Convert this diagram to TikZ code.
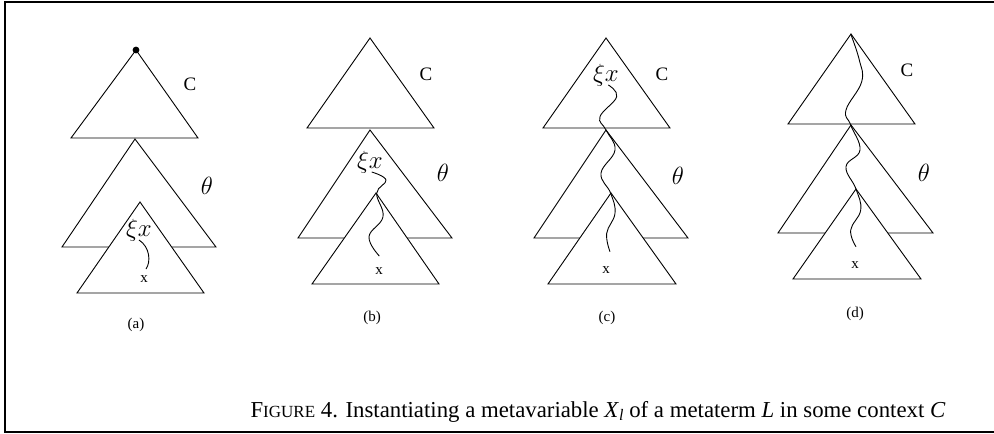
\documentclass[tikz,border=0pt]{standalone}
\usepackage{fontspec}
\setmainfont{Liberation Serif}
\begin{document}
\begin{tikzpicture}[x=1pt,y=-1pt,
  tri/.style={draw, line width=0.9pt, fill=white, line join=miter},
  wig/.style={line width=0.9pt},
  clab/.style={font=\fontsize{19}{22}\selectfont, inner sep=0pt},
  tlab/.style={font=\fontsize{24}{28}\selectfont, inner sep=0pt},
  xilab/.style={font=\fontsize{23}{27}\selectfont, inner sep=0pt},
  xlab/.style={font=\fontsize{15}{18}\selectfont, inner sep=0pt},
  sublab/.style={font=\fontsize{15}{18}\selectfont, inner sep=0pt},
  caplab/.style={font=\fontsize{22.8}{26}\selectfont, inner sep=0pt}]
\useasboundingbox (0,0) rectangle (994,434);
\draw[line width=2.2pt] (994,2) -- (5,2) -- (5,432) -- (994,432);

% (a)
\draw[tri] (136,50) -- (198,138) -- (71,138) -- cycle;
\draw[tri] (135,139) -- (216,247) -- (62,247) -- cycle;
\draw[tri] (140,202) -- (204,293) -- (77,293) -- cycle;
\fill (136,50) circle (3.4pt);
\node[clab] (aC) at (190,84) {C};
\node[tlab] (aT) at (207,186) {$\theta$};
\node[xilab] (aXi) at (139,230) {$\xi x$};
\draw[wig] (139,240) .. controls (150,247) and (151,262) .. (146,269);
\node[xlab] (ax) at (144,279) {x};
\node[sublab] (a) at (136,325) {(a)};

% (b)
\draw[tri] (370,38) -- (434,128) -- (307,128) -- cycle;
\draw[tri] (370,130) -- (452,238) -- (298,238) -- cycle;
\draw[tri] (376,193) -- (439,284) -- (312,284) -- cycle;
\node[clab] (bC) at (426,74) {C};
\node[tlab] (bT) at (443,173) {$\theta$};
\node[xilab] (bXi) at (370,162) {$\xi x$};
\draw[wig] plot[smooth, tension=0.7] coordinates {(371.7,172) (386,180) (376.7,193.3) (383,216.7) (369,236.7) (379.3,256)};
\node[xlab] (bx) at (379,271) {x};
\node[sublab] (b) at (372,318) {(b)};

% (c)
\draw[tri] (606,38) -- (670,128) -- (543,128) -- cycle;
\draw[tri] (606,130) -- (688,238) -- (534,238) -- cycle;
\draw[tri] (611,193) -- (676,284) -- (548,284) -- cycle;
\node[clab] (cC) at (662,74) {C};
\node[tlab] (cT) at (678,176) {$\theta$};
\node[xilab] (cXi) at (606,75) {$\xi x$};
\draw[wig] plot[smooth, tension=0.7] coordinates {(608.3,85) (616.7,96.7) (600,116.7) (606,130) (615,150) (601,173.3) (610.7,193.3) (615,213.3) (606.7,233.3) (610,251.7)};
\node[xlab] (cx) at (606,270) {x};
\node[sublab] (c) at (607,318) {(c)};

% (d)
\draw[tri] (851,34) -- (915,124) -- (788,124) -- cycle;
\draw[tri] (851,125) -- (933,233) -- (778,233) -- cycle;
\draw[tri] (856,189) -- (921,279) -- (793,279) -- cycle;
\node[clab] (dC) at (907,70) {C};
\node[tlab] (dT) at (924,173) {$\theta$};
\draw[wig] plot[smooth, tension=0.7] coordinates {(850.7,34) (859.3,60) (861.7,81.7) (846,110) (850.7,125) (860,150) (846,166.7) (856,189) (860.7,210) (850.7,230) (856,246.7)};
\node[xlab] (dx) at (855,265) {x};
\node[sublab] (d) at (855,314) {(d)};

\node[caplab, anchor=base] (cap) at (598,417) {F{\fontsize{17}{19}\selectfont IGURE} 4. Instantiating a metavariable \textit{X}\raisebox{-0.3ex}{\fontsize{16}{18}\selectfont\textit{l}} of a metaterm \textit{L} in some context \textit{C}};
\end{tikzpicture}
\end{document}
